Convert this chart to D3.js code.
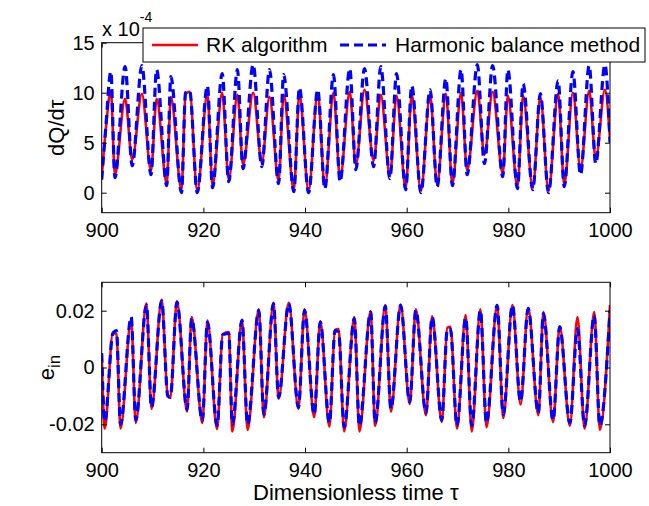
<!DOCTYPE html>
<html>
<head>
<meta charset="utf-8">
<script src="https://cdn.jsdelivr.net/npm/d3@7"></script>
<style>
  html, body { margin: 0; padding: 0; background: #fff; }
  svg { display: block; font-family: "Liberation Sans", Arial, sans-serif; }
</style>
</head>
<body>
<svg id="chart" width="649" height="506"></svg>
<script>
// Dimensionless time samples (extrema and shoulders) for the flow-rate panel
const tauQ = [900.0, 900.8, 901.8, 902.6, 904.6, 906.0, 907.9, 909.7, 910.8, 912.8, 913.6, 915.7,
  916.5, 917.3, 918.8, 920.8, 921.8, 923.7, 925.0, 926.7, 927.8, 929.8, 931.5, 933.0, 934.8,
  935.8, 937.8, 938.9, 940.7, 942.5, 943.9, 945.6, 946.9, 948.8, 950.0, 951.7, 953.5, 954.9,
  956.7, 958.0, 959.8, 961.0, 962.8, 964.6, 966.0, 967.7, 969.0, 970.7, 971.9, 973.9, 975.3,
  976.9, 978.9, 979.9, 981.8, 982.9, 984.8, 986.3, 987.9, 989.8, 991.0, 992.7, 994.2, 995.9,
  997.2, 999.0, 1000.0];
// dQ/dτ (×1e-4), RK algorithm
const dQ_rk = [1.5, 6.3, 10.2, 1.8, 9.4, 3.3, 9.9, 2.2, 9.4, 0.9, 9.6, 0.3,
  9.9, 10.1, 0.2, 9.9, 0.7, 10.0, 1.3, 9.8, 2.8, 10.0, 3.0, 9.6, 1.2,
  9.8, 0.3, 9.9, 0.2, 10.0, 0.6, 10.0, 1.4, 10.1, 2.8, 10.3, 3.2, 9.8,
  1.7, 9.7, 0.5, 9.8, 0.2, 9.8, 0.8, 9.9, 0.9, 10.0, 2.2, 10.2, 3.8,
  10.1, 1.9, 9.7, 0.6, 9.7, 0.5, 9.6, 0.2, 9.9, 0.8, 10.0, 2.3, 10.2,
  3.4, 10.3, 5.3];
// dQ/dτ (×1e-4), harmonic balance method
const dQ_hb = [1.3, 6.5, 12.1, 1.5, 12.6, 2.7, 12.7, 1.8, 12.3, 0.7, 11.6, 0.0,
  10.0, 10.2, 0.0, 10.7, 0.5, 11.9, 1.1, 12.3, 2.4, 12.8, 2.6, 12.3, 0.9,
  11.8, 0.1, 10.5, 0.0, 10.3, 0.4, 11.8, 1.1, 12.4, 2.3, 12.4, 2.6, 12.6,
  1.4, 11.9, 0.3, 10.7, 0.0, 10.3, 0.6, 11.4, 0.7, 12.3, 1.8, 12.8, 2.9,
  12.7, 1.6, 12.3, 0.4, 10.9, 0.3, 9.9, 0.0, 11.2, 0.6, 12.1, 1.8, 12.7,
  2.9, 12.8, 5.0];

// Dimensionless time samples for the input-voltage panel
const tauE = [900.0, 900.6, 902.2, 902.9, 903.7, 905.8, 906.7, 908.8, 909.8, 911.8, 913.0, 913.5,
  914.8, 916.8, 917.7, 919.8, 920.8, 922.7, 923.8, 925.0, 925.7, 927.6, 928.7, 930.9, 931.9,
  933.8, 934.8, 936.8, 938.7, 939.9, 941.8, 943.0, 944.8, 945.9, 946.6, 947.7, 949.7, 950.7,
  952.9, 953.8, 955.8, 956.9, 958.8, 960.6, 961.8, 963.8, 965.0, 966.9, 968.0, 968.6, 969.9,
  971.6, 972.8, 974.5, 975.7, 977.8, 979.0, 980.8, 982.4, 983.9, 985.9, 986.9, 988.8, 990.1,
  992.1, 993.6, 995.0, 996.9, 998.0, 1000.0];
// e_in, RK algorithm
const eIn_rk = [0.005, -0.0215, 0.012, 0.012, -0.0215, 0.017, -0.0195, 0.0225, -0.0145, 0.0238, -0.010, -0.0105,
  0.0233, -0.0155, 0.0178, -0.0195, 0.0165, -0.0217, 0.0118, 0.0125, -0.0225, 0.0168, -0.022, 0.0205, -0.0175,
  0.0228, -0.011, 0.0228, -0.0145, 0.0205, -0.0175, 0.0163, -0.0208, 0.0132, 0.0135, -0.0225, 0.0178, -0.0225,
  0.0198, -0.0205, 0.022, -0.0155, 0.0222, -0.0128, 0.0205, -0.0168, 0.018, -0.0192, 0.014, 0.0143, -0.0215,
  0.0185, -0.0225, 0.0205, -0.021, 0.022, -0.0178, 0.022, -0.013, 0.021, -0.0168, 0.0195, -0.0192, 0.0145,
  -0.0205, 0.0178, -0.0215, 0.0195, -0.022, 0.022];
// e_in, harmonic balance method
const eIn_hb = [0.005, -0.019, 0.012, 0.013, -0.020, 0.0178, -0.0185, 0.022, -0.014, 0.0235, -0.010, -0.0105,
  0.023, -0.0148, 0.0172, -0.0188, 0.016, -0.0205, 0.0115, 0.012, -0.020, 0.0166, -0.020, 0.0201, -0.0165,
  0.0225, -0.0105, 0.0225, -0.014, 0.0201, -0.0165, 0.016, -0.0195, 0.013, 0.0125, -0.021, 0.0172, -0.0205,
  0.0195, -0.0195, 0.0216, -0.0145, 0.0219, -0.0122, 0.0201, -0.016, 0.0178, -0.0185, 0.0135, 0.0135, -0.0205,
  0.0175, -0.0205, 0.0201, -0.0195, 0.0219, -0.0165, 0.0219, -0.012, 0.0207, -0.016, 0.019, -0.0185, 0.0143,
  -0.0195, 0.0137, -0.0205, 0.0184, -0.0205, 0.020];

const xTicks = [900, 920, 940, 960, 980, 1000];
const yTicksQ = [0, 5, 10, 15];
const yTicksE = [-0.02, 0, 0.02];
const legendLabels = ["RK algorithm", "Harmonic balance method"];

const RED = "#ff0000", BLUE = "#0000ff";
const svg = d3.select("#chart");
const left = 101.7, right = 610;

function panel(top, bottom, yDomain, yTicks, yFormat, tau, rk, hb, id) {
  const x = d3.scaleLinear().domain([900, 1000]).range([left, right]);
  const y = d3.scaleLinear().domain(yDomain).range([bottom, top]);
  const g = svg.append("g");

  g.append("clipPath").attr("id", id).append("rect")
    .attr("x", left).attr("y", top).attr("width", right - left).attr("height", bottom - top);

  const line = vals => d3.line()
    .x((d, i) => x(tau[i])).y(d => y(d))
    .curve(d3.curveMonotoneX)(vals);

  const lines = g.append("g").attr("clip-path", `url(#${id})`);
  lines.append("path").attr("d", line(rk))
    .attr("fill", "none").attr("stroke", RED).attr("stroke-width", 2.6)
    .attr("stroke-linejoin", "round");
  lines.append("path").attr("d", line(hb))
    .attr("fill", "none").attr("stroke", BLUE).attr("stroke-width", 3.2)
    .attr("stroke-dasharray", "9,5");

  const fs = 20;
  // bottom axis with labels, inward ticks
  const ax = g.append("g").attr("transform", `translate(0,${bottom})`)
    .call(d3.axisBottom(x).tickValues(xTicks).tickSizeInner(-5).tickSizeOuter(0).tickPadding(10).tickFormat(d3.format("d")));
  const ay = g.append("g").attr("transform", `translate(${left},0)`)
    .call(d3.axisLeft(y).tickValues(yTicks).tickSizeInner(-5).tickSizeOuter(0).tickPadding(7).tickFormat(yFormat));
  const at = g.append("g").attr("transform", `translate(0,${top})`)
    .call(d3.axisTop(x).tickValues(xTicks).tickSizeInner(-5).tickSizeOuter(0).tickFormat(""));
  const ar = g.append("g").attr("transform", `translate(${right},0)`)
    .call(d3.axisRight(y).tickValues(yTicks).tickSizeInner(-5).tickSizeOuter(0).tickFormat(""));
  [ax, ay, at, ar].forEach(a => {
    a.select(".domain").remove();
    a.selectAll("line").attr("stroke", "#000");
    a.selectAll("text").attr("fill", "#000").style("font-size", fs + "px")
      .style("font-family", "'Liberation Sans', Arial, sans-serif");
  });
  ax.selectAll("text").attr("dy", "0.71em");

  g.append("rect").attr("x", left).attr("y", top)
    .attr("width", right - left).attr("height", bottom - top)
    .attr("fill", "none").attr("stroke", "#000").attr("stroke-width", 1);
  return { x, y };
}

// upper panel: dQ/dτ
panel(42.7, 212.7, [-2, 15], yTicksQ, d3.format("d"), tauQ, dQ_rk, dQ_hb, "clipQ");
// lower panel: e_in
panel(282.3, 452.7, [-0.03, 0.03], yTicksE, d => d === 0 ? "0" : d3.format(".2f")(d).replace("−", "-"),
  tauE, eIn_rk, eIn_hb, "clipE");

// exponent label above the upper panel
const expo = svg.append("text").attr("x", 102).attr("y", 36)
  .style("font-size", "20px").attr("fill", "#000");
expo.append("tspan").text("x 10");
expo.append("tspan").attr("dy", -14).style("font-size", "14px").text("-4");

// y-axis titles
svg.append("text").attr("transform", "translate(64,127.7) rotate(-90)")
  .attr("text-anchor", "middle").style("font-size", "22px").text("dQ/dτ");
const ein = svg.append("text").attr("transform", "translate(54,367.5) rotate(-90)")
  .attr("text-anchor", "middle").style("font-size", "22px");
ein.append("tspan").text("e");
ein.append("tspan").attr("dy", 6).style("font-size", "17px").text("in");

// x-axis title
svg.append("text").attr("x", (left + right) / 2).attr("y", 500)
  .attr("text-anchor", "middle").style("font-size", "22px").text("Dimensionless time τ");

// legend
const lg = svg.append("g");
lg.append("rect").attr("x", 143).attr("y", 28).attr("width", 502).attr("height", 34)
  .attr("fill", "#fff").attr("stroke", "#000").attr("stroke-width", 1);
lg.append("line").attr("x1", 152).attr("x2", 198).attr("y1", 45).attr("y2", 45)
  .attr("stroke", RED).attr("stroke-width", 2.6);
lg.append("text").attr("x", 206).attr("y", 52).style("font-size", "21px").text(legendLabels[0]);
lg.append("line").attr("x1", 340).attr("x2", 386).attr("y1", 45).attr("y2", 45)
  .attr("stroke", BLUE).attr("stroke-width", 3.2).attr("stroke-dasharray", "9,5");
lg.append("text").attr("x", 395).attr("y", 52).style("font-size", "21px").text(legendLabels[1]);
</script>
</body>
</html>
